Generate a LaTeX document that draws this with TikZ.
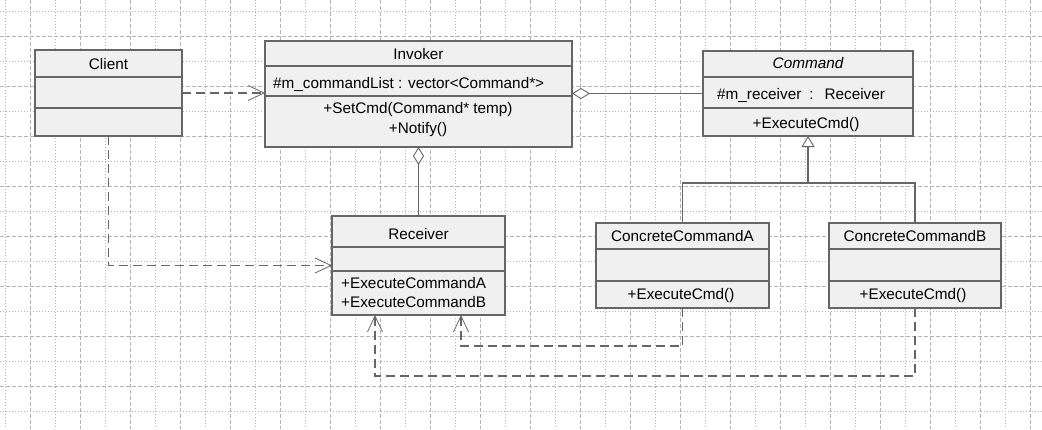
\documentclass[tikz,border=0pt]{standalone}
\usepackage{fontspec}
\setmainfont{Liberation Sans}
\usepackage{tikz}
\usetikzlibrary{calc, positioning, arrows.meta}
\definecolor{myline}{HTML}{666666}
\definecolor{myfill}{HTML}{F0F0F0}
\definecolor{mygrid}{HTML}{B4B4B4}

\begin{document}
\begin{tikzpicture}[x=1pt, y=-1pt,
	classbox/.style={draw=myline, fill=myfill, line width=1.1pt, inner sep=0pt, outer sep=0pt},
	sepline/.style={draw=myline, line width=1.1pt},
	txt/.style={font=\fontsize{15.3}{18}\selectfont, inner sep=0pt, text height=11pt, text depth=3pt},
	gridmajor/.style={draw=mygrid, line width=0.7pt, dash pattern=on 4pt off 2pt},
	gridminor/.style={draw=mygrid, line width=0.7pt, dash pattern=on 1pt off 2pt},
	dep/.style={draw=myline, line width=1.2pt, dash pattern=on 9pt off 5pt, -{Straight Barb[length=16pt,width=15pt,line width=0.8pt]}},
	aggr/.style={draw=myline, line width=1.2pt, -{Diamond[length=18pt,width=11pt,fill=white,line width=0.9pt]}},
	gen/.style={draw=myline, line width=1.2pt, -{Triangle[length=11pt,width=13pt,fill=white,line width=0.9pt]}}]
	% background and grid
	\fill[white] (0,0) rectangle (1042,429);
	\useasboundingbox (0,0) rectangle (1042,429);
	\foreach \x in {5,55,...,1005} \draw[gridminor] (\x,0) -- (\x,429);
	\foreach \x in {30,80,...,1030} \draw[gridmajor] (\x,0) -- (\x,429);
	\foreach \y in {11,61,...,411} \draw[gridminor] (0,\y) -- (1042,\y);
	\foreach \y in {36,86,...,386} \draw[gridmajor] (0,\y) -- (1042,\y);

	% classes
	\node[classbox, minimum width=147pt, minimum height=86pt] (client) at (108.5,93) {};
	\node[classbox, minimum width=307pt, minimum height=106pt] (invoker) at (418.5,94) {};
	\node[classbox, minimum width=210pt, minimum height=85pt] (command) at (808,93.5) {};
	\node[classbox, minimum width=173pt, minimum height=99pt] (receiver) at (418.5,265.5) {};
	\node[classbox, minimum width=173pt, minimum height=85pt] (ccA) at (682.5,265.5) {};
	\node[classbox, minimum width=172pt, minimum height=85pt] (ccB) at (915,265.5) {};

	\draw[sepline] (client.west |- 0,77) -- (client.east |- 0,77);
	\draw[sepline] (client.west |- 0,108) -- (client.east |- 0,108);
	\draw[sepline] (invoker.west |- 0,66) -- (invoker.east |- 0,66);
	\draw[sepline] (invoker.west |- 0,96) -- (invoker.east |- 0,96);
	\draw[sepline] (command.west |- 0,77) -- (command.east |- 0,77);
	\draw[sepline] (command.west |- 0,108) -- (command.east |- 0,108);
	\draw[sepline] (receiver.west |- 0,247) -- (receiver.east |- 0,247);
	\draw[sepline] (receiver.west |- 0,271) -- (receiver.east |- 0,271);
	\draw[sepline] (ccA.west |- 0,249) -- (ccA.east |- 0,249);
	\draw[sepline] (ccA.west |- 0,281) -- (ccA.east |- 0,281);
	\draw[sepline] (ccB.west |- 0,249) -- (ccB.east |- 0,249);
	\draw[sepline] (ccB.west |- 0,281) -- (ccB.east |- 0,281);

	% texts
	\node[txt] (client-name) at (108.5,65) {Client};
	\node[txt] (invoker-name) at (418.5,55) {Invoker};
	\node[txt, anchor=west] (invoker-attr) at (273,84) {\#m\_commandList : vector<Command*>};
	\node[txt] (invoker-op1) at (418,109.5) {+SetCmd(Command* temp)};
	\node[txt] (invoker-op2) at (418,129) {+Notify()};
	\node[txt] (command-name) at (808,64.5) {\itshape Command};
	\node[txt, anchor=west] (command-attr) at (717,95) {\#m\_receiver\hspace{8pt}:\hspace{11pt}Receiver};
	\node[txt] (command-op) at (806,124.5) {+ExecuteCmd()};
	\node[txt] (receiver-name) at (418.5,235) {Receiver};
	\node[txt, anchor=west] (receiver-op1) at (341,284) {+ExecuteCommandA};
	\node[txt, anchor=west] (receiver-op2) at (341,303.5) {+ExecuteCommandB};
	\node[txt] (ccA-name) at (682.5,237.5) {ConcreteCommandA};
	\node[txt] (ccA-op) at (681,295.5) {+ExecuteCmd()};
	\node[txt] (ccB-name) at (915,237.5) {ConcreteCommandB};
	\node[txt] (ccB-op) at (913,295.5) {+ExecuteCmd()};

	% relations
	\draw[dep] (client.east) -- (client.east -| invoker.west);
	\draw[dep] (client.south) |- (receiver.west);
	\draw[aggr] (receiver.north) -- (invoker.south);
	\draw[aggr] (command.west) -- (command.west -| invoker.east);
	\coordinate (joint) at (command.south |- 0,183);
	\draw[gen] (joint) -- (command.south);
	\draw[draw=myline, line width=1.2pt] (ccA.north) |- (joint) -| (ccB.north);
	\draw[dep] (ccA.south) -- ++(0,38) -| ([xshift=42.5pt]receiver.south);
	\draw[dep] (ccB.south) -- ++(0,68) -| ([xshift=-43.5pt]receiver.south);
\end{tikzpicture}
\end{document}
